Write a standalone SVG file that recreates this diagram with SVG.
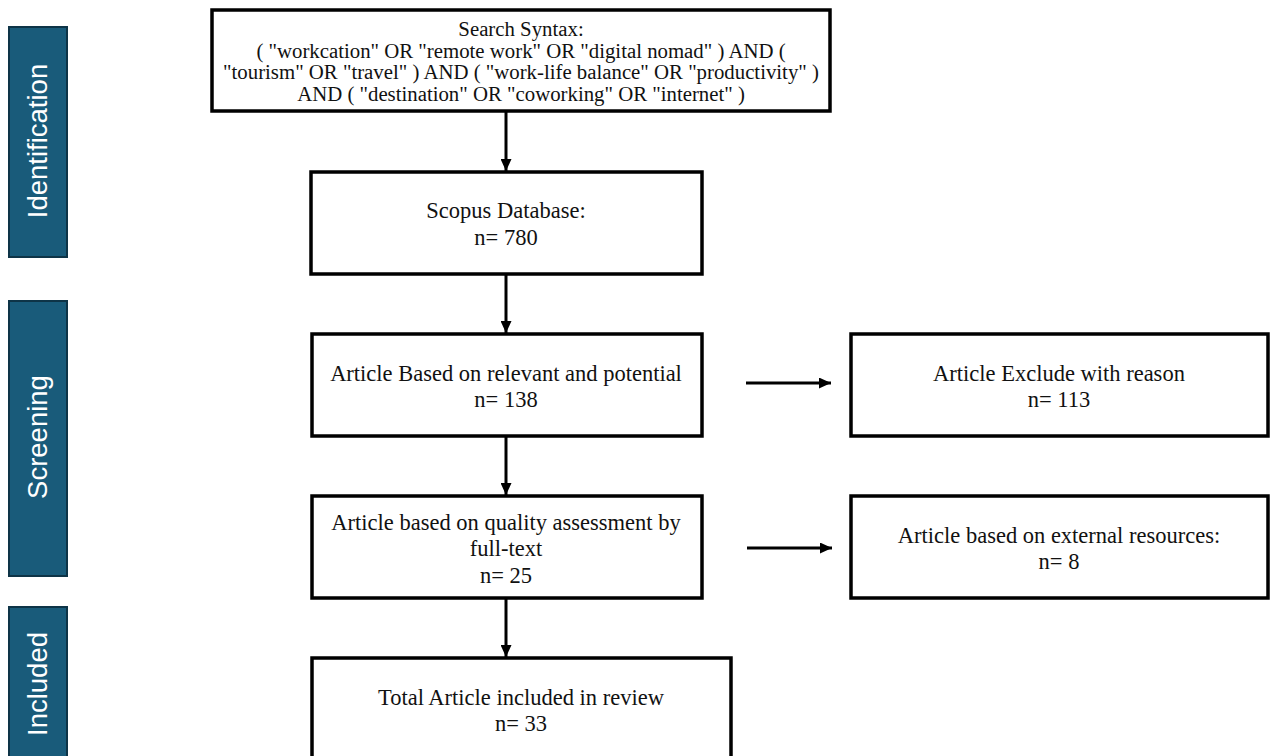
<svg xmlns="http://www.w3.org/2000/svg" width="1270" height="756" viewBox="0 0 1270 756">
<style>
.bar{fill:#195b7a;stroke:#0e3447;stroke-width:2}
.bt{font-family:"Liberation Sans",Arial,sans-serif;font-size:27.5px;fill:#ffffff;text-anchor:middle}
.box{fill:#ffffff;stroke:#000000;stroke-width:3.5}
.t{font-family:"Liberation Serif","Times New Roman",serif;font-size:22.5px;fill:#111111;text-anchor:middle}
.ts{font-family:"Liberation Serif","Times New Roman",serif;font-size:20.8px;fill:#111111;text-anchor:middle}
.c{stroke:#000000;stroke-width:3;fill:none}
</style>
<defs>
<marker id="ah" viewBox="0 0 12 11" refX="12" refY="5.5" markerWidth="12" markerHeight="11" markerUnits="userSpaceOnUse" orient="auto">
<path d="M0,0 L12,5.5 L0,11 Z" fill="#000000"/>
</marker>
</defs>
<rect width="1270" height="756" fill="#ffffff"/>
<g id="phase-identification">
<rect class="bar" x="9" y="27" width="58" height="230"/>
<text class="bt" transform="translate(47,141) rotate(-90)">Identification</text>
</g>
<g id="phase-screening">
<rect class="bar" x="9" y="301" width="58" height="275"/>
<text class="bt" transform="translate(47,437) rotate(-90)">Screening</text>
</g>
<g id="phase-included">
<rect class="bar" x="9" y="607" width="58" height="160"/>
<text class="bt" transform="translate(47,684) rotate(-90)">Included</text>
</g>
<g id="search">
<rect class="box" x="212" y="10" width="618" height="101"/>
<text class="ts" x="521" y="35.5">Search Syntax:</text>
<text class="ts" x="521" y="57.5">( "workcation" OR "remote work" OR "digital nomad" ) AND (</text>
<text class="ts" x="521" y="79">"tourism" OR "travel" ) AND ( "work-life balance" OR "productivity" )</text>
<text class="ts" x="521" y="100.5">AND ( "destination" OR "coworking" OR "internet" )</text>
</g>
<g id="scopus">
<rect class="box" x="311" y="172" width="391" height="102"/>
<text class="t" x="506" y="218">Scopus Database:</text>
<text class="t" x="506" y="245">n= 780</text>
</g>
<g id="relevant">
<rect class="box" x="312" y="334" width="390" height="102"/>
<text class="t" x="506" y="381">Article Based on relevant and potential</text>
<text class="t" x="506" y="407">n= 138</text>
</g>
<g id="exclude">
<rect class="box" x="851" y="334" width="417" height="102"/>
<text class="t" x="1059" y="381">Article Exclude with reason</text>
<text class="t" x="1059" y="407">n= 113</text>
</g>
<g id="quality">
<rect class="box" x="312" y="496" width="390" height="102"/>
<text class="t" x="506" y="530">Article based on quality assessment by</text>
<text class="t" x="506" y="556">full-text</text>
<text class="t" x="506" y="583">n= 25</text>
</g>
<g id="external">
<rect class="box" x="851" y="496" width="417" height="102"/>
<text class="t" x="1059" y="543">Article based on external resources:</text>
<text class="t" x="1059" y="569">n= 8</text>
</g>
<g id="total">
<rect class="box" x="312" y="658" width="419" height="110"/>
<text class="t" x="521" y="705">Total Article included in review</text>
<text class="t" x="521" y="731">n= 33</text>
</g>
<g id="connectors">
<line class="c" x1="506" y1="111" x2="506" y2="171" marker-end="url(#ah)"/>
<line class="c" x1="506" y1="274" x2="506" y2="333" marker-end="url(#ah)"/>
<line class="c" x1="506" y1="436" x2="506" y2="495" marker-end="url(#ah)"/>
<line class="c" x1="506" y1="598" x2="506" y2="657" marker-end="url(#ah)"/>
<line class="c" x1="746" y1="383" x2="831" y2="383" marker-end="url(#ah)"/>
<line class="c" x1="747" y1="548" x2="832" y2="548" marker-end="url(#ah)"/>
</g>
</svg>
